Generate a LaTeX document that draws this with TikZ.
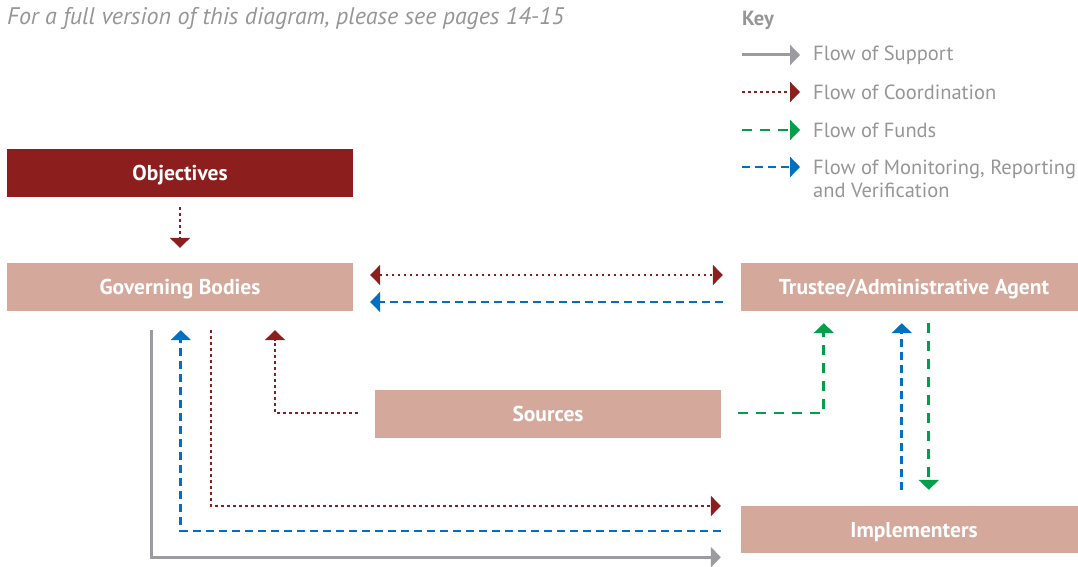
\documentclass[tikz,border=0pt]{standalone}
\usepackage{fontspec}
\setmainfont{PT Sans}
\usetikzlibrary{arrows.meta}
\definecolor{objred}{RGB}{140,30,30}
\definecolor{boxpink}{RGB}{212,168,154}
\definecolor{keygray}{RGB}{150,150,150}
\definecolor{linegray}{RGB}{155,155,160}
\definecolor{fundgreen}{RGB}{0,160,75}
\definecolor{mrvblue}{RGB}{0,112,192}
\tikzset{
  box/.style={rectangle, fill=boxpink, minimum width=346pt, minimum height=48pt, inner sep=0pt,
    text depth=0pt, text=white, font=\fontsize{21.5}{24}\selectfont\bfseries},
  objbox/.style={box, fill=objred},
  tip/.style={-{Triangle[length=10pt,width=20pt]}},
  bothtips/.style={{Triangle[length=10pt,width=20pt]}-{Triangle[length=10pt,width=20pt]}},
  support/.style={tip, draw=linegray, line width=3pt},
  coordstyle/.style={draw=objred, line width=2.6pt, dash pattern=on 2.6pt off 3.4pt},
  coord/.style={tip, coordstyle},
  funds/.style={tip, draw=fundgreen, line width=2.8pt, dash pattern=on 10pt off 8pt},
  mrv/.style={tip, draw=mrvblue, line width=2.8pt, dash pattern=on 8pt off 5pt},
  keylabel/.style={anchor=west, text=keygray, inner sep=0pt, font=\fontsize{20.5}{23}\selectfont, align=left},
}
\begin{document}
\begin{tikzpicture}[x=1pt,y=-1pt]
\useasboundingbox (0,0) rectangle (1078,567);
% header
\node[anchor=west, inner sep=0pt, text=keygray, font=\fontsize{24}{28}\selectfont\itshape] (hdr) at (7,19) {For a full version of this diagram, please see pages 14-15};
% key
\node[keylabel, font=\fontsize{20.5}{23}\selectfont\bfseries] (keyt) at (742,20) {Key};
\coordinate (k1a) at (742,55);  \coordinate (k1b) at (800,55);
\coordinate (k2a) at (742,92);  \coordinate (k2b) at (800,92);
\coordinate (k3a) at (742,130); \coordinate (k3b) at (800,130);
\coordinate (k4a) at (742,167); \coordinate (k4b) at (800,167);
\draw[support] (k1a) -- (k1b);
\draw[coord] (k2a) -- (k2b);
\draw[funds] (k3a) -- (k3b);
\draw[mrv] (k4a) -- (k4b);
\node[keylabel] (l1) at (813,55) {Flow of Support};
\node[keylabel] (l2) at (813,92) {Flow of Coordination};
\node[keylabel] (l3) at (813,130) {Flow of Funds};
\node[keylabel] (l4) at (813,179) {Flow of Monitoring, Reporting\\and Verification};
% boxes
\node[objbox] (obj) at (180,173) {Objectives};
\node[box] (gov) at (180,287) {Governing Bodies};
\node[box] (tru) at (914,287) {Trustee/Administrative Agent};
\node[box] (src) at (548,414) {Sources};
\node[box, minimum height=47pt] (imp) at (914,529.5) {Implementers};
% connectors
\draw[coord] ([yshift=-10pt]obj.south) -- ([yshift=15pt]gov.north);
\draw[bothtips, coordstyle] ([xshift=17pt,yshift=12pt]gov.east) -- ([xshift=-18pt,yshift=12pt]tru.west);
\draw[mrv] ([xshift=-18pt,yshift=-15pt]tru.west) -- ([xshift=17pt,yshift=-15pt]gov.east);
\draw[support] ([xshift=145pt,yshift=-19pt]gov.south west) |- ([xshift=-20pt,yshift=-4pt]imp.south west);
\draw[mrv] ([xshift=-20pt,yshift=-1.5pt]imp.west) -| ([xshift=174pt,yshift=-19pt]gov.south west);
\draw[coord] ([xshift=204pt,yshift=-19pt]gov.south west) |- ([xshift=-20pt,yshift=23.5pt]imp.west);
\draw[coord] ([xshift=-17pt,yshift=1pt]src.west) -| ([xshift=95pt,yshift=-19pt]gov.south);
\draw[funds] ([xshift=17pt,yshift=1pt]src.east) -| ([xshift=83pt,yshift=-12pt]tru.south west);
\draw[mrv] ([xshift=161pt,yshift=16pt]imp.north west) -- ([xshift=161pt,yshift=-12pt]tru.south west);
\draw[funds] ([xshift=188pt,yshift=-12pt]tru.south west) -- ([xshift=188pt,yshift=16pt]imp.north west);
\end{tikzpicture}
\end{document}
